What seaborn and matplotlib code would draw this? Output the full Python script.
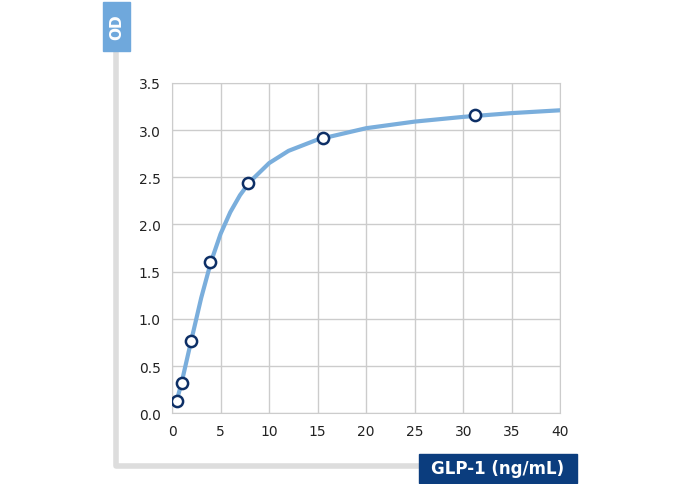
import matplotlib
matplotlib.use("Agg")
import pandas as pd
import seaborn as sns
import matplotlib.pyplot as plt
from matplotlib.patches import Rectangle
from matplotlib.lines import Line2D

# standard points
conc = [0.49, 0.98, 1.95, 3.9, 7.8, 15.6, 31.25]
od = [0.13, 0.32, 0.77, 1.60, 2.44, 2.92, 3.16]
# fitted curve
curve_x = [0.4, 1, 2, 3, 4, 5, 6, 7, 8, 10, 12, 15, 20, 25, 30, 35, 40]
curve_y = [0.10, 0.33, 0.78, 1.22, 1.60, 1.90, 2.13, 2.31, 2.45, 2.65, 2.78, 2.90, 3.02, 3.09, 3.14, 3.18, 3.21]

sns.set_style("white")
plt.rcParams['font.family'] = ['DejaVu Sans']

fig = plt.figure(figsize=(6.8, 4.85), dpi=100)
ax = fig.add_axes([0.253, 0.146, 0.571, 0.681])

sns.lineplot(x=curve_x, y=curve_y, ax=ax, color="#7aaedc", linewidth=3, zorder=2)
sns.scatterplot(x=conc, y=od, ax=ax, s=65, color="white", edgecolor="#0d2f66",
                linewidth=1.8, zorder=3)

ax.set_xlim(0, 40)
ax.set_ylim(0, 3.5)
ax.set_xticks(range(0, 41, 5))
ax.set_yticks([i * 0.5 for i in range(8)])
ax.set_yticklabels([f"{i * 0.5:.1f}" for i in range(8)])
ax.grid(True, color="#cccccc", linewidth=1)
for s in ax.spines.values():
    s.set_color("#cccccc")
ax.tick_params(length=0, labelsize=10, colors="#222222", pad=8)

# gray L frame
fig.add_artist(Line2D([116 / 680, 116 / 680, 420 / 680], [1 - 52 / 485, 1 - 467 / 485, 1 - 467 / 485],
                      color="#dddddd", linewidth=4, transform=fig.transFigure))
# OD label box
fig.add_artist(Rectangle((103 / 680, 1 - 52 / 485), 27 / 680, 49 / 485, transform=fig.transFigure,
                         color="#6fa8dc", zorder=5))
fig.text(116.5 / 680, 1 - 27.5 / 485, "OD", rotation=90, ha="center", va="center",
         color="white", fontsize=11, fontweight="bold", zorder=6)
# x label box
fig.add_artist(Rectangle((419 / 680, 1 - 484 / 485), 158 / 680, 29 / 485, transform=fig.transFigure,
                         color="#0b3d7e", zorder=5))
fig.text(498 / 680, 1 - 469.5 / 485, "GLP-1 (ng/mL)", ha="center", va="center",
         color="white", fontsize=12, fontweight="bold", zorder=6)

fig.savefig("out.png", dpi=100)
